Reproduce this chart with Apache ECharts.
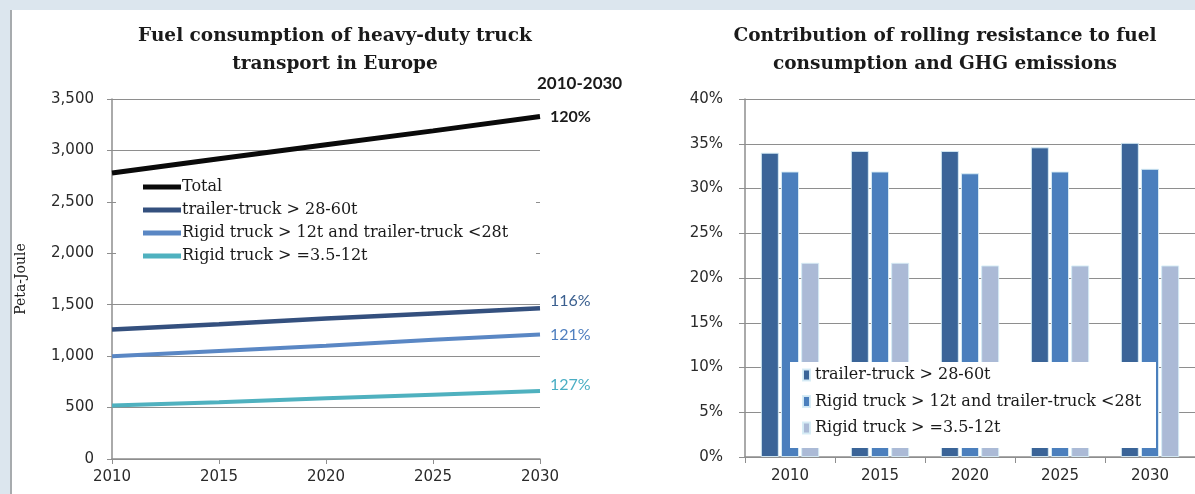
<!DOCTYPE html>
<html>
<head>
<meta charset="utf-8">
<script src="https://cdn.jsdelivr.net/npm/echarts@6/dist/echarts.min.js"></script>
<style>
  html, body { margin: 0; padding: 0; }
  #frame { position: relative; width: 1195px; height: 494px; background: #dce6ee; overflow: hidden; }
  #sheet { position: absolute; left: 10px; top: 10px; right: 0; bottom: 0; background: #ffffff; border-left: 2px solid #a7abae; }
  #chart { position: absolute; left: 0; top: 0; width: 1195px; height: 494px; }
</style>
</head>
<body>
<div id="frame">
  <div id="sheet"></div>
  <div id="chart"></div>
</div>
<script>
// Years shown on both charts
const years = ['2010', '2015', '2020', '2025', '2030'];

// Fuel consumption (Peta-Joule)
const totalPJ         = [2780, 2920, 3055, 3190, 3330];
const trailerHeavyPJ  = [1260, 1310, 1365, 1415, 1465];
const rigidMediumPJ   = [1000, 1050, 1100, 1160, 1210];
const rigidLightPJ    = [520, 552, 590, 625, 660];

// Share of rolling resistance in fuel consumption (%)
const shareTrailerHeavy = [34.0, 34.2, 34.2, 34.6, 35.1];
const shareRigidMedium  = [31.9, 31.9, 31.7, 31.9, 32.2];
const shareRigidLight   = [21.7, 21.7, 21.4, 21.4, 21.4];

const nameTotal   = 'Total';
const nameHeavy   = 'trailer-truck > 28-60t';
const nameMedium  = 'Rigid truck > 12t and trailer-truck <28t';
const nameLight   = 'Rigid truck > =3.5-12t';

const serif = '"DejaVu Serif", "Liberation Serif", serif';
const sans  = '"DejaVu Sans", sans-serif';
const label = 'Lato, "Open Sans", sans-serif';

const gridColor = '#8e8e8e';

// growth 2010 -> 2030 as a percentage
function growth(arr) {
  return Math.round(arr[arr.length - 1] / arr[0] * 100) + '%';
}

function lineSeries(name, data, color, width, labelColor, offset) {
  return {
    name: name,
    type: 'line',
    xAxisIndex: 0,
    yAxisIndex: 0,
    data: data,
    symbol: 'none',
    smooth: false,
    lineStyle: { color: color, width: width },
    itemStyle: { color: color },
    endLabel: {
      show: true,
      distance: 10,
      offset: offset,
      color: labelColor,
      fontFamily: label,
      fontSize: 16,
      fontWeight: name === nameTotal ? 'bold' : 'normal',
      formatter: function () { return growth(data); }
    },
    z: 5
  };
}

// bar series carry a prefix so their legend stays separate from the lines
const barPrefix = 'share: ';
function barSeries(name, data, color) {
  return {
    name: barPrefix + name,
    type: 'bar',
    xAxisIndex: 1,
    yAxisIndex: 1,
    data: data,
    barWidth: 18,
    barGap: '12%',
    itemStyle: { color: color, borderColor: 'rgba(214,236,246,0.95)', borderWidth: 1 },
    z: 2
  };
}

const chart = echarts.init(document.getElementById('chart'), null, { renderer: 'canvas' });

chart.setOption({
  animation: false,
  backgroundColor: 'transparent',
  title: [
    {
      text: 'Fuel consumption of heavy-duty truck\ntransport in Europe',
      left: 330, top: 17, textAlign: 'center',
      textStyle: { fontFamily: serif, fontSize: 18.5, fontWeight: 'bold', color: '#1a1a1a', lineHeight: 28 }
    },
    {
      text: 'Contribution of rolling resistance to fuel\nconsumption and GHG emissions',
      left: 940, top: 17, textAlign: 'center',
      textStyle: { fontFamily: serif, fontSize: 18.5, fontWeight: 'bold', color: '#1a1a1a', lineHeight: 28 }
    },
    {
      text: '2010-2030',
      left: 527, top: 71,
      backgroundColor: '#ffffff',
      padding: [4, 8, 4, 10],
      textStyle: { fontFamily: label, fontSize: 17, fontWeight: 'bold', color: '#1a1a1a' }
    }
  ],
  graphic: [
    // white backdrop of the line chart legend
    { type: 'rect', z: 3, shape: { x: 116, y: 176, width: 420, height: 92 }, style: { fill: '#ffffff' } },
    // white backdrop of the bar chart legend
    { type: 'rect', z: 3, shape: { x: 790, y: 362, width: 366, height: 86 }, style: { fill: '#ffffff' } }
  ],
  legend: [
    {
      data: [nameTotal, nameHeavy, nameMedium, nameLight],
      orient: 'vertical',
      left: 143, top: 179,
      itemWidth: 38, itemHeight: 5, itemGap: 7,
      icon: 'rect',
      padding: 0,
      textStyle: { fontFamily: serif, fontSize: 16, lineHeight: 16, color: '#1a1a1a', padding: [0, 0, 0, -4] },
      z: 6
    },
    {
      data: [barPrefix + nameHeavy, barPrefix + nameMedium, barPrefix + nameLight],
      orient: 'vertical',
      left: 802, top: 367,
      itemWidth: 7, itemHeight: 11, itemGap: 10.5,
      icon: 'rect',
      padding: 0,
      formatter: function (n) { return n.slice(barPrefix.length); },
      textStyle: { fontFamily: serif, fontSize: 16, lineHeight: 16, color: '#1a1a1a' },
      z: 6
    }
  ],
  grid: [
    { left: 112, right: 655, top: 99, bottom: 35 },
    { left: 745, right: 0, top: 99, bottom: 37 }
  ],
  xAxis: [
    {
      gridIndex: 0, type: 'category', data: years, boundaryGap: false,
      axisLine: { lineStyle: { color: gridColor, width: 1.5 } },
      axisTick: { show: true, length: 5, lineStyle: { color: gridColor } },
      axisLabel: { fontFamily: sans, fontSize: 15, color: '#2a2a2a', margin: 11 },
      splitLine: { show: false }
    },
    {
      gridIndex: 1, type: 'category', data: years, boundaryGap: true,
      axisLine: { lineStyle: { color: gridColor, width: 1.5 } },
      axisTick: { show: true, length: 6, lineStyle: { color: gridColor } },
      axisLabel: { fontFamily: sans, fontSize: 15, color: '#2a2a2a', margin: 12 },
      splitLine: { show: false }
    }
  ],
  yAxis: [
    {
      gridIndex: 0, type: 'value', min: 0, max: 3500, interval: 500,
      name: 'Peta-Joule', nameLocation: 'middle', nameGap: 84, nameRotate: 90,
      nameTextStyle: { fontFamily: serif, fontSize: 14, color: '#1a1a1a' },
      axisLine: { show: true, lineStyle: { color: gridColor, width: 1.5 } },
      axisTick: { show: true, length: 5, lineStyle: { color: gridColor } },
      axisLabel: {
        fontFamily: sans, fontSize: 15, color: '#2a2a2a', margin: 18,
        formatter: function (v) { return v.toLocaleString('en-US'); }
      },
      splitLine: { show: true, lineStyle: { color: gridColor, width: 1 } }
    },
    {
      gridIndex: 1, type: 'value', min: 0, max: 40, interval: 5,
      axisLine: { show: true, lineStyle: { color: gridColor, width: 1.5 } },
      axisTick: { show: true, length: 6, lineStyle: { color: gridColor } },
      axisLabel: { fontFamily: sans, fontSize: 15, color: '#2a2a2a', margin: 22, formatter: '{value}%' },
      splitLine: { show: true, lineStyle: { color: gridColor, width: 1 } }
    }
  ],
  series: [
    lineSeries(nameTotal, totalPJ, '#0a0a0a', 5, '#1a1a1a', [0, 0]),
    lineSeries(nameHeavy, trailerHeavyPJ, '#34507e', 4.5, '#3a5f8f', [0, -7]),
    lineSeries(nameMedium, rigidMediumPJ, '#5a87c4', 4, '#4f7fbf', [0, 0]),
    lineSeries(nameLight, rigidLightPJ, '#4fb1bf', 4, '#4aaec4', [0, -6]),
    barSeries(nameHeavy, shareTrailerHeavy, '#3a6498'),
    barSeries(nameMedium, shareRigidMedium, '#4b7fbd'),
    barSeries(nameLight, shareRigidLight, '#abbad6')
  ]
});
</script>
</body>
</html>
